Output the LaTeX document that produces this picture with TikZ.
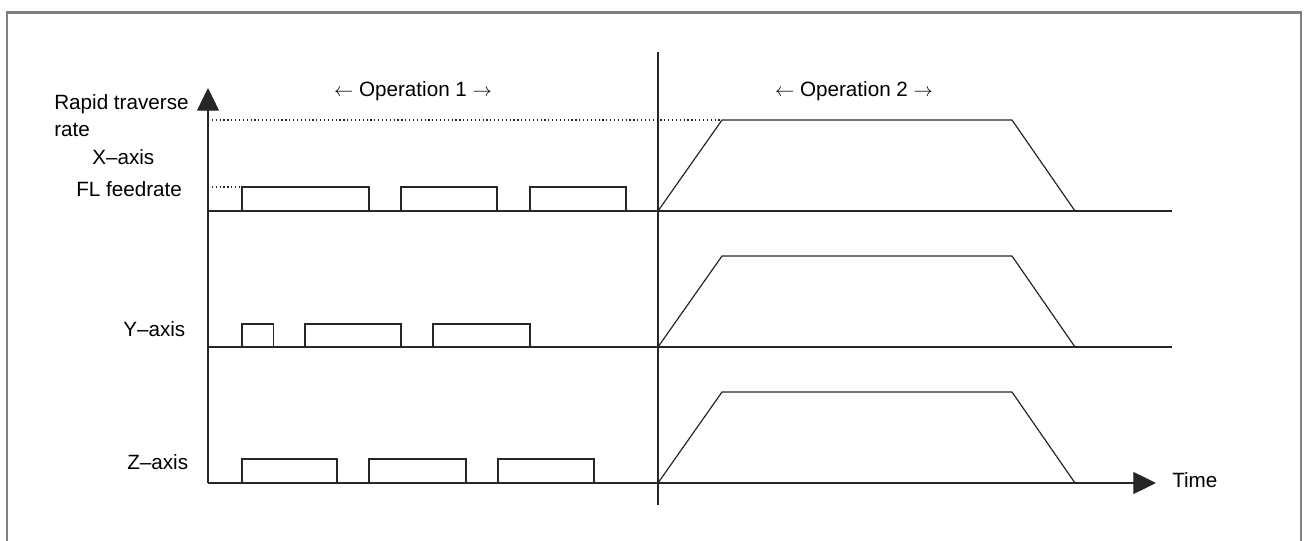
\documentclass[tikz,border=0pt]{standalone}
\usepackage{fontspec}
\setmainfont{Liberation Sans}
\usetikzlibrary{arrows.meta, positioning, calc}
\tikzset{
    lbl/.style={inner sep=0pt, font=\fontsize{15.5}{18}\selectfont},
    signal/.style={line width=0.9pt, draw=black!85},
    axisline/.style={line width=0.9pt, draw=black!85},
    axisarrow/.style={axisline, -{Triangle[length=17pt, width=16.5pt]}},
    guide/.style={dotted, line width=0.9pt, draw=black!85},
    frameline/.style={line width=2pt, draw=black!50}
}

\begin{document}
\begin{tikzpicture}[x=0.75pt, y=-0.75pt]
    \useasboundingbox (0,0) rectangle (1304,541);
    \draw[frameline] (7,541) -- (7,12.5) -- (1301,12.5) -- (1301,541);

    % axes and baselines
    \coordinate (orig) at (208,483);
    \coordinate (vtip) at (208,88);
    \coordinate (htip) at (1156,483);
    \coordinate (xbase) at (208,211);
    \coordinate (xend) at (1172,211);
    \coordinate (ybase) at (208,347);
    \coordinate (yend) at (1172,347);
    \coordinate (septop) at (658,52);
    \coordinate (sepbot) at (658,505);
    \draw[axisarrow] (orig) -- (vtip);
    \draw[axisarrow] (orig) -- (htip);
    \draw[axisline] (xbase) -- (xend);
    \draw[axisline] (ybase) -- (yend);
    \draw[axisline] (septop) -- (sepbot);

    % labels
    \node[lbl, anchor=base west] (rapid) at (54,110) {Rapid traverse};
    \node[lbl, anchor=base west] (rate) at (54,137) {rate};
    \node[lbl, anchor=base west] (xaxis) at (92,165) {X–axis};
    \node[lbl, anchor=base west] (fl) at (76,197) {FL feedrate};
    \node[lbl, anchor=base west] (yaxis) at (123,337) {Y–axis};
    \node[lbl, anchor=base west] (zaxis) at (127,470) {Z–axis};
    \node[lbl, anchor=base west] (time) at (1172,488) {Time};
    \node[lbl, anchor=base] (op1) at (413,97) {$\leftarrow$ Operation 1 $\rightarrow$};
    \node[lbl, anchor=base] (op2) at (854,97) {$\leftarrow$ Operation 2 $\rightarrow$};

    % guide levels
    \draw[guide] (208,120) -- (722,120);
    \draw[guide] (208,187) -- (242,187);

    % operation 1: cutting feed pulses
    \draw[signal] (242,211) |- (369,187) -- (369,211);
    \draw[signal] (401,211) |- (497,187) -- (497,211);
    \draw[signal] (530,211) |- (626,187) -- (626,211);
    \draw[signal] (242,347) |- (273.5,324) -- (273.5,347);
    \draw[signal] (305,347) |- (401,324) -- (401,347);
    \draw[signal] (433,347) |- (530,324) -- (530,347);
    \draw[signal] (242,483) |- (337,459) -- (337,483);
    \draw[signal] (369,483) |- (466,459) -- (466,483);
    \draw[signal] (498,483) |- (594,459) -- (594,483);

    % operation 2: rapid traverse
    \draw[signal] (658,211) -- (722,120) -- (1012,120) -- (1075,211);
    \draw[signal] (658,347) -- (722,256) -- (1012,256) -- (1075,347);
    \draw[signal] (658,483) -- (722,392) -- (1012,392) -- (1075,483);
\end{tikzpicture}
\end{document}
